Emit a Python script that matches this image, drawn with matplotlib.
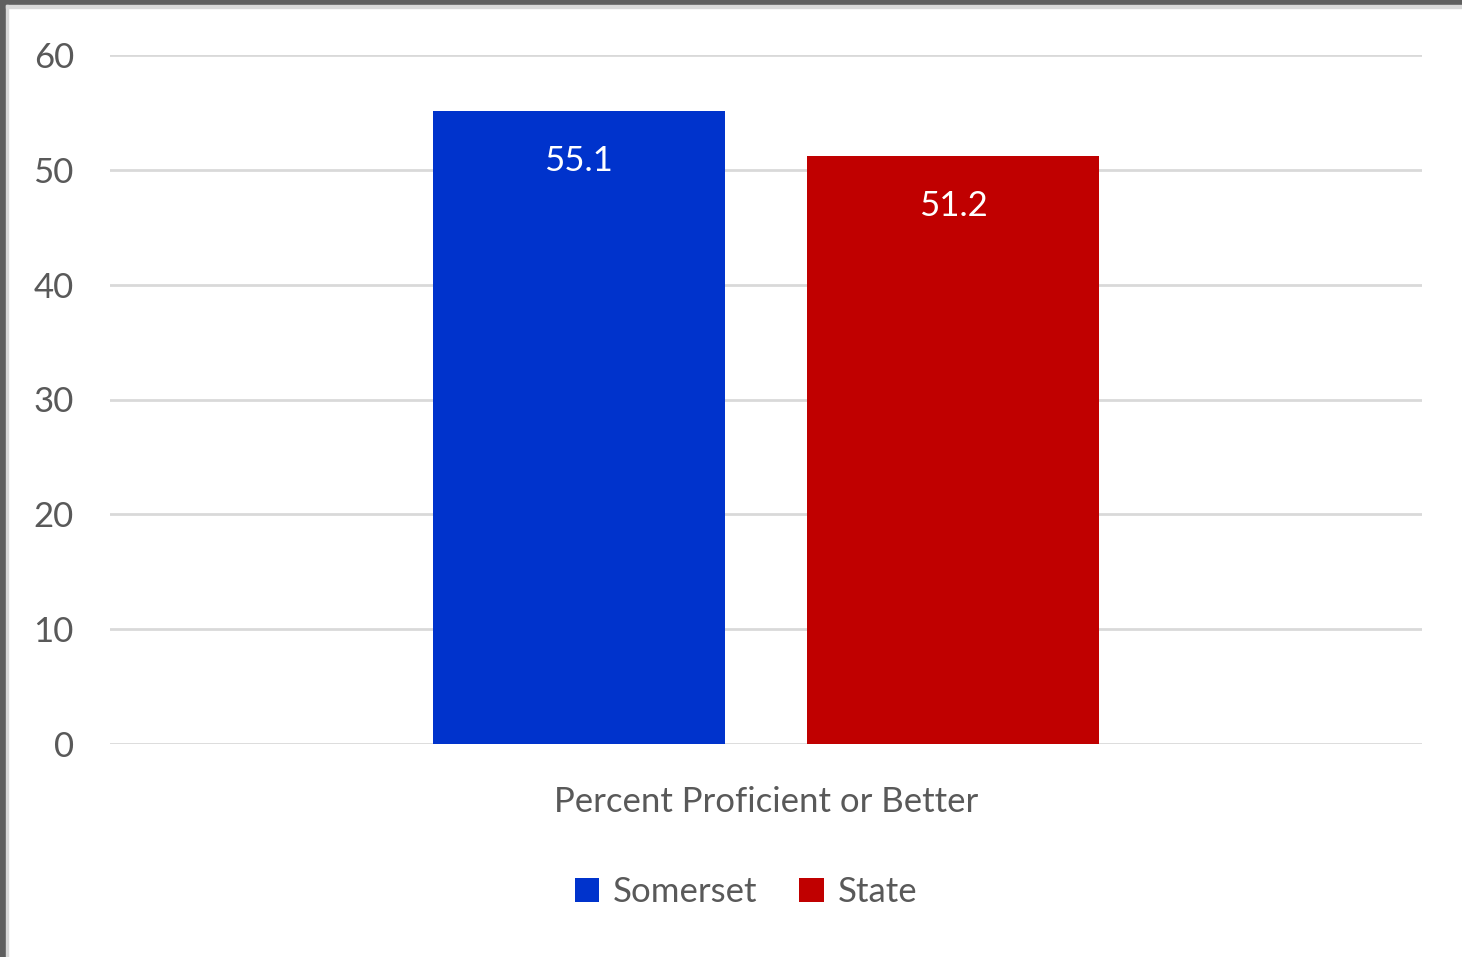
"""Grouped bar chart: Percent Proficient or Better, Somerset vs State."""

import matplotlib

matplotlib.use("Agg")

import matplotlib.pyplot as plt  # noqa: E402
import numpy as np  # noqa: E402
from matplotlib.patches import Rectangle  # noqa: E402

categories = ["Percent Proficient or Better"]
series_names = ["Somerset", "State"]
somerset = [55.1]
state = [51.2]
y_ticks = [0, 10, 20, 30, 40, 50, 60]

colors = ["#0033CC", "#C00000"]
text_gray = "#595959"
grid_gray = "#D9D9D9"

plt.rcParams["font.family"] = ["Lato", "DejaVu Sans"]

fig = plt.figure(figsize=(14.62, 9.57), dpi=100)
ax = fig.add_axes([110 / 1462, 1 - 744 / 957, 1312 / 1462, 689 / 957])

x = np.arange(len(categories))
width = 0.2226
gap = 0.063
offsets = [-(width + gap) / 2, (width + gap) / 2]

for values, name, color, off in zip([somerset, state], series_names, colors, offsets):
    bars = ax.bar(x + off, values, width, color=color, label=name, zorder=3)
    for b, v in zip(bars, values):
        ax.annotate(f"{v}", (b.get_x() + b.get_width() / 2, v),
                    xytext=(0, -36), textcoords="offset points",
                    ha="center", va="center", color="white", fontsize=25)

ax.set_xlim(-0.5, 0.5)
ax.set_ylim(0, 60)
ax.set_yticks(y_ticks)
ax.set_xticks(x)
ax.set_xticklabels(categories)
ax.tick_params(axis="y", length=0, pad=26, labelsize=25, labelcolor=text_gray)
ax.tick_params(axis="x", length=0, pad=30, labelsize=25, labelcolor=text_gray)
ax.yaxis.grid(True, color=grid_gray, linewidth=2, zorder=0)
ax.set_axisbelow(True)
for side in ax.spines.values():
    side.set_visible(False)

leg = fig.legend(loc="center", bbox_to_anchor=(746 / 1462, 1 - 892 / 957),
                 ncol=2, frameon=False, fontsize=25, handlelength=0.7,
                 handleheight=0.7, handletextpad=0.4, columnspacing=1.2)
for t in leg.get_texts():
    t.set_color(text_gray)

# outer frame like a screenshot border
fig.patches.append(Rectangle((0, 1 - 5 / 957), 1, 5 / 957, transform=fig.transFigure,
                             color="#5F5F5F", zorder=0))
fig.patches.append(Rectangle((0, 0), 6 / 1462, 1, transform=fig.transFigure,
                             color="#5F5F5F", zorder=0))
fig.patches.append(Rectangle((6 / 1462, 0), 2 / 1462, 1 - 5 / 957, transform=fig.transFigure,
                             color="#D9D9D9", zorder=0))
fig.patches.append(Rectangle((6 / 1462, 1 - 8 / 957), 1, 3 / 957, transform=fig.transFigure,
                             color="#D9D9D9", zorder=0))

fig.savefig("out.png", dpi=100)
plt.close(fig)
